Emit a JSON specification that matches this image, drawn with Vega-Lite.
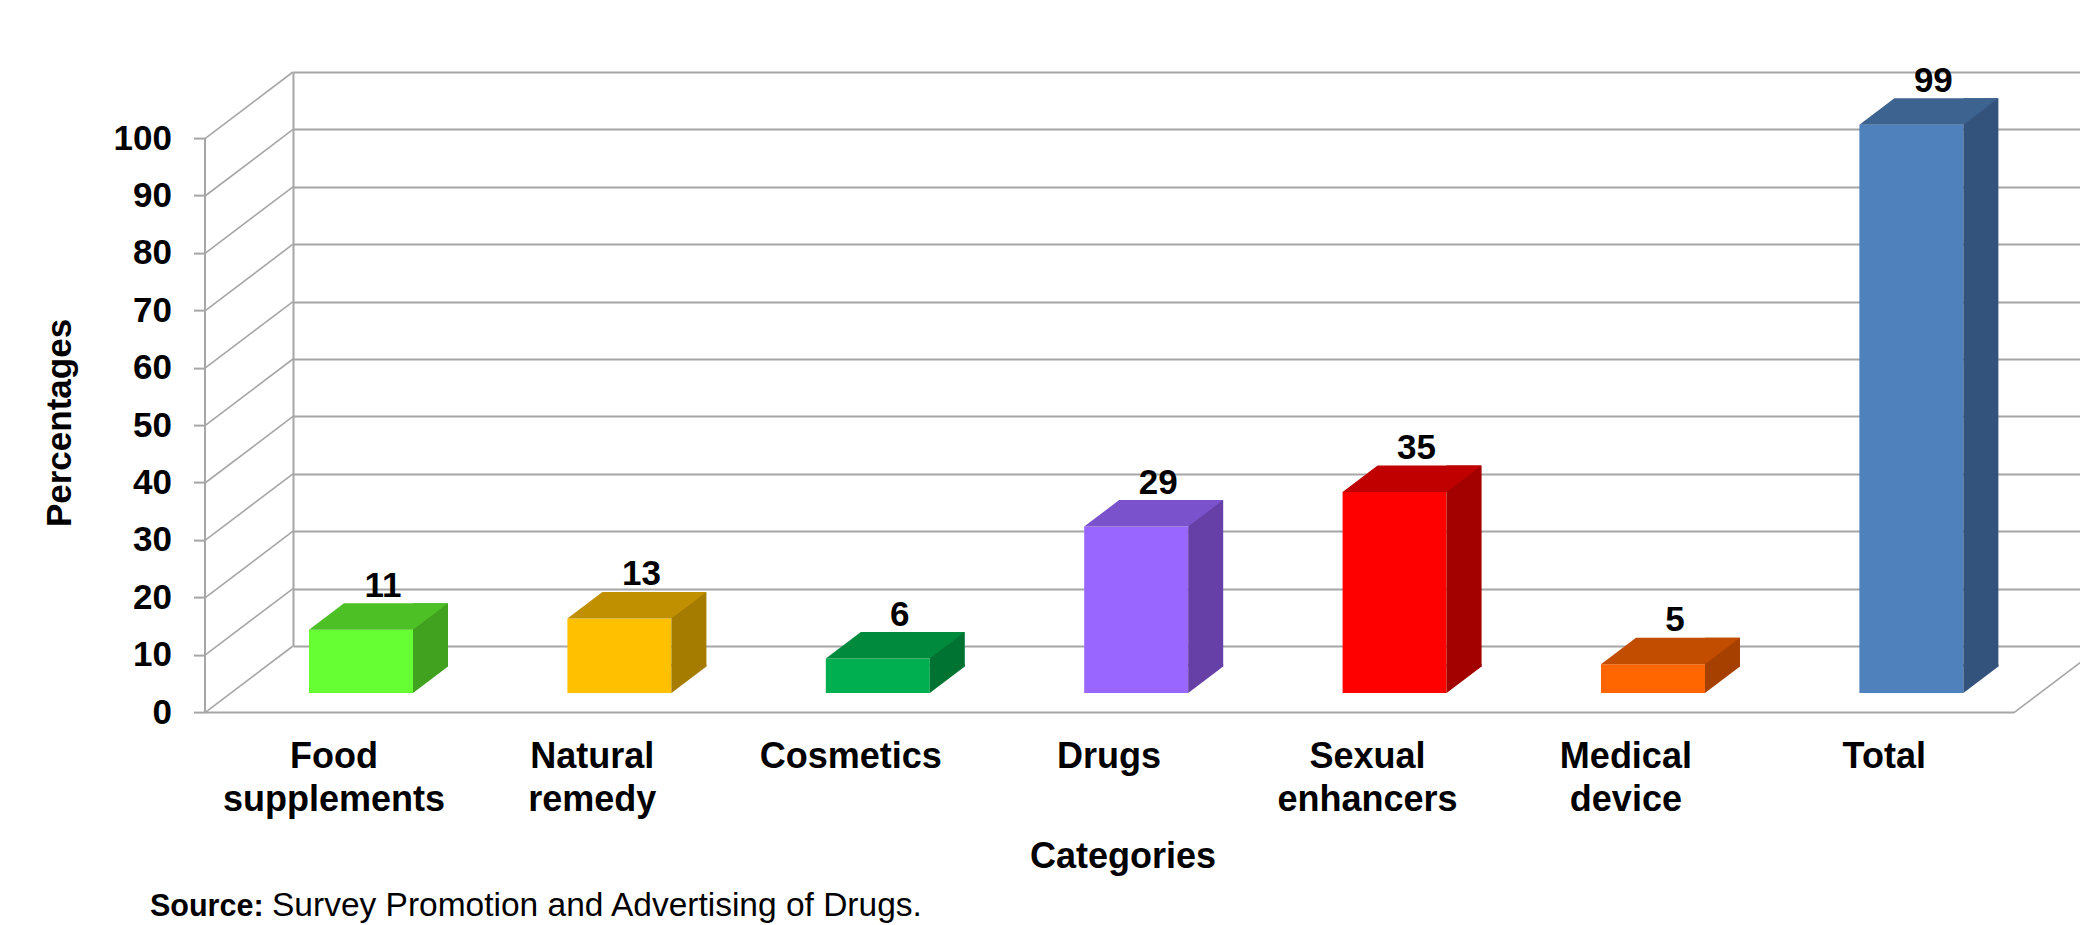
{
  "$schema": "https://vega.github.io/schema/vega-lite/v6.json",
  "width": 1809,
  "height": 574,
  "autosize": {"type": "none"},
  "padding": {"left": 293, "top": 72, "right": -22, "bottom": 279},
  "background": "white",
  "config": {
    "view": {"stroke": null},
    "font": "Liberation Sans",
    "axis": {"labelFont": "Liberation Sans", "titleFont": "Liberation Sans", "labelColor": "#000000", "titleColor": "#000000"}
  },
  "datasets": {
    "bars": [
      {"category": "Food supplements", "value": 11},
      {"category": "Natural remedy", "value": 13},
      {"category": "Cosmetics", "value": 6},
      {"category": "Drugs", "value": 29},
      {"category": "Sexual enhancers", "value": 35},
      {"category": "Medical device", "value": 5},
      {"category": "Total", "value": 99}
    ],
    "ticks": [
      {"tick": 0}, {"tick": 10}, {"tick": 20}, {"tick": 30}, {"tick": 40}, {"tick": 50},
      {"tick": 60}, {"tick": 70}, {"tick": 80}, {"tick": 90}, {"tick": 100}
    ]
  },
  "data": {"name": "bars"},
  "resolve": {
    "axis": {"x": "independent", "y": "independent"},
    "scale": {"color": "independent"}
  },
  "layer": [
    {
      "data": {"name": "ticks"},
      "mark": {"type": "rule", "color": "#a6a6a6", "strokeWidth": 1.6, "xOffset": -88, "yOffset": 66.6},
      "encoding": {
        "x": {"value": 0},
        "x2": {"value": 0},
        "y": {
          "field": "tick", "type": "quantitative",
          "scale": {"domain": [0, 100], "nice": false},
          "axis": {
            "orient": "left", "offset": 154.6, "translate": 66.6,
            "values": [0, 10, 20, 30, 40, 50, 60, 70, 80, 90, 100],
            "grid": false,
            "domain": true, "domainColor": "#a6a6a6", "domainWidth": 2,
            "ticks": true, "tickSize": 11, "tickColor": "#a6a6a6", "tickWidth": 2,
            "labelFontSize": 35, "labelFontWeight": "bold", "labelPadding": 22,
            "title": "Percentages", "titleFontSize": 35, "titleFontWeight": "bold",
            "titleAngle": -90, "titleX": -134.4, "titleY": 284.4,
            "titleAlign": "center", "titleBaseline": "alphabetic"
          }
        },
        "y2": {"field": "tick"}
      }
    },
    {
      "data": {"name": "ticks"},
      "transform": [{"filter": "datum.tick == 0"}],
      "mark": {"type": "rule", "color": "#a6a6a6", "strokeWidth": 1.6, "xOffset": -88, "yOffset": 66.6},
      "encoding": {
        "x": {"value": "width"},
        "x2": {"value": "width"},
        "y": {"field": "tick", "type": "quantitative", "scale": {"domain": [0, 100], "nice": false}, "axis": null},
        "y2": {"field": "tick"}
      }
    },
    {
      "mark": {"type": "bar", "yOffset": 47, "y2Offset": 47},
      "encoding": {
        "x": {
          "field": "category", "type": "nominal", "sort": null,
          "scale": {
            "type": "band",
            "domain": ["Food supplements", "Natural remedy", "Cosmetics", "Drugs", "Sexual enhancers", "Medical device", "Total"],
            "paddingInner": 0.5975, "paddingOuter": 0.2992, "align": 0.1035
          },
          "axis": {
            "orient": "bottom", "offset": 154.6, "translate": -88,
            "domain": true, "domainColor": "#a6a6a6", "domainWidth": 2,
            "ticks": false, "tickSize": 0, "grid": false,
            "labelAngle": 0, "labelFontSize": 36, "labelFontWeight": "bold",
            "labelPadding": 55.7, "labelBaseline": "alphabetic", "labelOffset": 61.4,
            "labelLineHeight": 42.4, "labelLimit": 500, "labelOverlap": false,
            "labelExpr": "split(datum.label, ' ')",
            "title": "Categories", "titleFontSize": 36, "titleFontWeight": "bold",
            "titleX": 918, "titleY": 155.7, "titleAlign": "center", "titleBaseline": "alphabetic"
          }
        },
        "y": {
          "field": "value", "type": "quantitative",
          "scale": {"domain": [0, 100], "nice": false},
          "axis": {
            "orient": "left", "offset": 0,
            "values": [0, 10, 20, 30, 40, 50, 60, 70, 80, 90, 100],
            "grid": true, "gridColor": "#a6a6a6", "gridWidth": 2,
            "domain": true, "domainColor": "#a6a6a6", "domainWidth": 2,
            "ticks": false, "labels": false, "title": null
          }
        },
        "color": {
          "field": "category", "type": "nominal", "legend": null,
          "scale": {
            "domain": ["Food supplements", "Natural remedy", "Cosmetics", "Drugs", "Sexual enhancers", "Medical device", "Total"],
            "range": ["#66ff33", "#ffc000", "#00b050", "#9966ff", "#ff0000", "#ff6600", "#4f81bd"]
          }
        }
      }
    },
    {
      "mark": {"type": "bar", "width": 35, "xOffset": 69.5, "yOffset": 20.5, "y2Offset": 20.5},
      "encoding": {
        "x": {
          "field": "category", "type": "nominal", "sort": null,
          "axis": {
            "orient": "bottom", "offset": 0,
            "domain": false, "ticks": false, "labels": false, "grid": false,
            "title": "Source:", "titleFontSize": 30.5, "titleFontWeight": "bold",
            "titleX": -143.5, "titleY": 269.5, "titleAlign": "left", "titleBaseline": "alphabetic", "titleLimit": 1000
          }
        },
        "y": {"field": "value", "type": "quantitative", "scale": {"domain": [0, 100], "nice": false}, "axis": null},
        "color": {
          "field": "category", "type": "nominal", "legend": null,
          "scale": {
            "domain": ["Food supplements", "Natural remedy", "Cosmetics", "Drugs", "Sexual enhancers", "Medical device", "Total"],
            "range": ["#40a21f", "#a67c00", "#007332", "#6640a6", "#a30000", "#a64000", "#33537d"]
          }
        }
      }
    },
    {
      "mark": {"type": "point", "shape": "M-1,0.757L1,-0.757L1,-0.88L-1,-0.88Z", "size": 1225, "filled": true, "opacity": 1, "strokeWidth": 0, "xOffset": 69.5, "yOffset": 33.75},
      "encoding": {
        "x": {"field": "category", "type": "nominal", "sort": null, "axis": null},
        "y": {"datum": 0, "type": "quantitative", "scale": {"domain": [0, 100], "nice": false}, "axis": null},
        "color": {
          "field": "category", "type": "nominal", "legend": null,
          "scale": {
            "domain": ["Food supplements", "Natural remedy", "Cosmetics", "Drugs", "Sexual enhancers", "Medical device", "Total"],
            "range": ["#40a21f", "#a67c00", "#007332", "#6640a6", "#a30000", "#a64000", "#33537d"]
          }
        }
      }
    },
    {
      "mark": {"type": "point", "shape": "M-1,0.1906L0.4964,0.1906L1,-0.1906L-0.4964,-0.1906Z", "size": 19321, "filled": true, "opacity": 1, "strokeWidth": 0, "xOffset": 17.5, "yOffset": 33.75},
      "encoding": {
        "x": {
          "field": "category", "type": "nominal", "sort": null,
          "axis": {
            "orient": "bottom", "offset": 0,
            "domain": false, "ticks": false, "labels": false, "grid": false,
            "title": "Survey Promotion and Advertising of Drugs.", "titleFontSize": 33.5, "titleFontWeight": "normal",
            "titleX": -21.5, "titleY": 269.5, "titleAlign": "left", "titleBaseline": "alphabetic", "titleLimit": 2000
          }
        },
        "y": {"field": "value", "type": "quantitative", "scale": {"domain": [0, 100], "nice": false}, "axis": null},
        "color": {
          "field": "category", "type": "nominal", "legend": null,
          "scale": {
            "domain": ["Food supplements", "Natural remedy", "Cosmetics", "Drugs", "Sexual enhancers", "Medical device", "Total"],
            "range": ["#4dc026", "#c09000", "#008a3e", "#7a52cc", "#c00000", "#c24d00", "#3d6391"]
          }
        }
      }
    },
    {
      "mark": {"type": "text", "fontSize": 35, "fontWeight": "bold", "font": "Liberation Sans", "color": "#000000", "align": "center", "baseline": "alphabetic", "xOffset": 22, "yOffset": 14},
      "encoding": {
        "x": {"field": "category", "type": "nominal", "sort": null, "axis": null},
        "y": {"field": "value", "type": "quantitative", "scale": {"domain": [0, 100], "nice": false}, "axis": null},
        "text": {"field": "value", "type": "quantitative"}
      }
    }
  ]
}
